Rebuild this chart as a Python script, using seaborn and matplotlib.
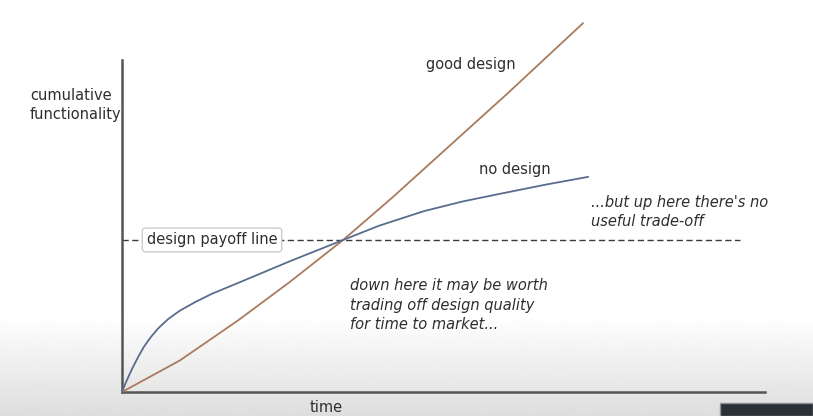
import numpy as np
import pandas as pd
import matplotlib
matplotlib.use('Agg')
import matplotlib.pyplot as plt
import seaborn as sns

# values (time vs cumulative functionality, 0..100 scale)
good_t = [0, 9, 18, 26, 34.4, 42, 50, 60, 71.7]
good_f = [0, 9.5, 21.5, 33, 45.8, 58.5, 72.5, 90.0, 111.1]
none_t = [0, 0.5, 1.0, 1.6, 2.5, 3.4, 4.5, 5.7, 7.2, 9.0, 11.4, 14.0, 18, 26, 34.4,
          40, 47, 53, 59.3, 66, 72.5]
none_f = [0, 2.4, 4.6, 7.1, 10.5, 13.6, 16.6, 19.3, 22.0, 24.5, 27.1, 29.6, 32.8, 39.3, 45.8,
          50.1, 54.5, 57.4, 59.9, 62.5, 64.8]
payoff_level = 45.8
payoff_end = 96.1

BROWN = '#a97b5c'
BLUE = '#5a6c8c'
INK = '#2e2e2e'

sns.set_style('white')
plt.rcParams['font.family'] = ['DejaVu Sans']

W, H = 813, 416
fig = plt.figure(figsize=(W / 100, H / 100), dpi=100)

# background: white fading to light grey at the bottom (video frame)
bg = fig.add_axes([0, 0, 1, 1], zorder=0)
rows = np.linspace(0, 1, H)
shade = np.where(rows < 0.76, 1.0, 1.0 - (rows - 0.76) / 0.24 * 0.13)
bg.imshow(np.tile(shade[:, None], (1, W)), cmap='gray', vmin=0, vmax=1,
          aspect='auto', extent=[0, 1, 0, 1], origin='upper')
bg.add_patch(plt.Rectangle((720 / W, 0), (W - 720) / W, 13 / H, fc='#2b3036', ec='#8a9098', lw=1))
bg.axis('off')

# main axes: x 0..100 over px 122..765, y 0..100 over px 392..60
x0, x1 = 122, 765
y0 = 392
ppy = (392 - 60) / 100
ax = fig.add_axes([x0 / W, (H - y0) / H, (x1 - x0) / W, y0 / H], zorder=1)
ax.set_facecolor('none')
ax.set_xlim(0, 100)
ax.set_ylim(0, y0 / ppy)

df = pd.DataFrame({'t': good_t + none_t,
                   'f': good_f + none_f,
                   'kind': ['good design'] * len(good_t) + ['no design'] * len(none_t)})
sns.lineplot(data=df, x='t', y='f', hue='kind', palette={'good design': BROWN, 'no design': BLUE},
             sort=False, estimator=None, lw=1.3, legend=False, ax=ax, clip_on=False, zorder=3)

ax.plot([0, payoff_end], [payoff_level, payoff_level], color='#3a3a3a', lw=1.0,
        dashes=(4.5, 2.5), zorder=2)

for s in ['top', 'right']:
    ax.spines[s].set_visible(False)
for s in ['left', 'bottom']:
    ax.spines[s].set_color('#555555')
    ax.spines[s].set_linewidth(1.8)
ax.spines['left'].set_bounds(0, 100)
ax.set_xticks([])
ax.set_yticks([])
ax.set_xlabel('')
ax.set_ylabel('')

fs = 10.5
ax.text(14.0, payoff_level, 'design payoff line', ha='center', va='center', fontsize=fs,
        color=INK, zorder=4,
        bbox=dict(boxstyle='round,pad=0.3,rounding_size=0.2', fc='white', ec='#cccccc', lw=1))
ax.text(54.3, 98.5, 'good design', ha='center', va='center', fontsize=fs, color=INK)
ax.text(61.1, 66.9, 'no design', ha='center', va='center', fontsize=fs, color=INK)
ax.text(72.9, 54.2, "...but up here there's no\nuseful trade-off", ha='left', va='center',
        fontsize=fs, style='italic', color=INK, linespacing=1.4)
ax.text(35.5, 26.2, 'down here it may be worth\ntrading off design quality\nfor time to market...',
        ha='left', va='center', fontsize=fs, style='italic', color=INK, linespacing=1.35)

fig.text(30 / W, 1 - 105 / H, 'cumulative\nfunctionality', ha='left', va='center',
         multialignment='left', fontsize=fs, color=INK, linespacing=1.35, zorder=2)
fig.text(326 / W, 1 - 408 / H, 'time', ha='center', va='center', fontsize=fs,
         color=INK, zorder=2)

fig.savefig('out.png', dpi=100)
